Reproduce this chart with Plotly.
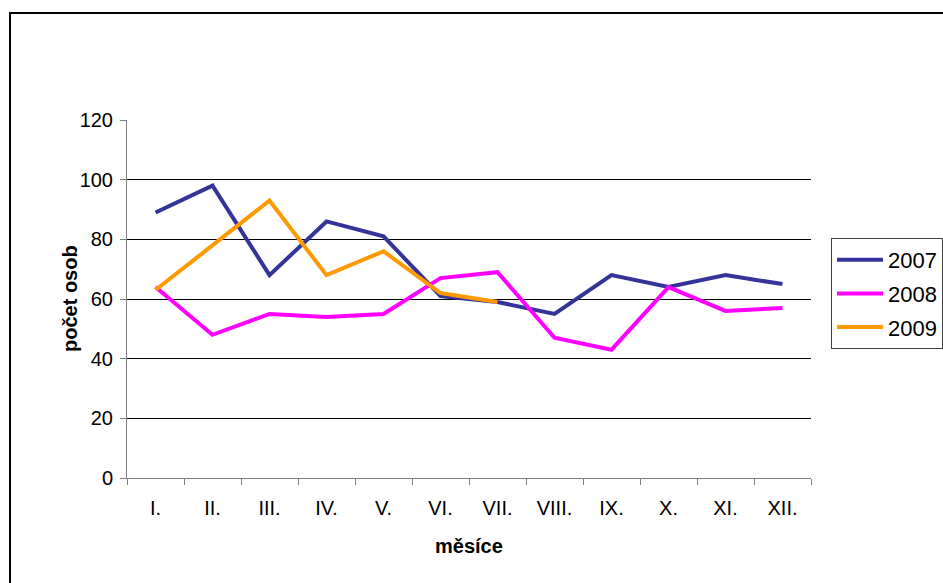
import plotly.graph_objects as go

months = ["I.", "II.", "III.", "IV.", "V.", "VI.", "VII.", "VIII.", "IX.", "X.", "XI.", "XII."]
y2007 = [89, 98, 68, 86, 81, 61, 59, 55, 68, 64, 68, 65]
y2008 = [64, 48, 55, 54, 55, 67, 69, 47, 43, 64, 56, 57]
y2009 = [63, 78, 93, 68, 76, 62, 59]
y_ticks = [0, 20, 40, 60, 80, 100, 120]

FONT = "Liberation Sans, Arial, sans-serif"

fig = go.Figure()
fig.add_trace(go.Scatter(x=months, y=y2007, name="2007", mode="lines",
                         line=dict(color="#333399", width=4), legendgroup="a"))
fig.add_trace(go.Scatter(x=months, y=y2008, name="2008", mode="lines",
                         line=dict(color="#FF00FF", width=4), legendgroup="b"))
fig.add_trace(go.Scatter(x=months[:len(y2009)], y=y2009, name="2009", mode="lines",
                         line=dict(color="#FF9900", width=4), legendgroup="c"))

W, H = 943, 583
# target plot area in page pixels: x 127..811, y 120..478
L, T = 127, 120
R = W - 811
B = H - 478
pw, ph = W - L - R, H - T - B

def px_x(sx):
    return (sx - L) / pw

def px_y(sy):
    return (H - B - sy) / ph

fig.update_layout(
    width=W, height=H,
    margin=dict(l=L, r=R, t=T, b=B, autoexpand=False),
    paper_bgcolor="white", plot_bgcolor="white",
    font=dict(family=FONT, size=20, color="black"),
    showlegend=True,
    legend=dict(x=px_x(831), y=px_y(238), xanchor="left", yanchor="top",
                bordercolor="#404040", borderwidth=1, bgcolor="white",
                font=dict(size=22), traceorder="grouped", tracegroupgap=2,
                itemwidth=46),
    xaxis=dict(type="category", range=[-0.5, 11.5], showgrid=False, zeroline=False,
               showline=True, linecolor="#808080", linewidth=1,
               ticks="outside", tickson="boundaries", ticklen=6, tickcolor="#808080",
               ticklabelstandoff=12, tickfont=dict(size=20)),
    yaxis=dict(range=[0, 120], tickvals=y_ticks, showgrid=True, gridcolor="black",
               gridwidth=1, zeroline=False, showline=True, linecolor="#808080",
               linewidth=1, ticks="outside", ticklen=6, tickcolor="#808080",
               ticklabelstandoff=3, tickfont=dict(size=20)),
    annotations=[
        dict(text="<b>měsíce</b>", xref="paper", yref="paper",
             x=px_x(469), y=px_y(546), xanchor="center", yanchor="middle",
             showarrow=False, font=dict(size=20)),
        dict(text="<b>počet osob</b>", xref="paper", yref="paper",
             x=px_x(57), y=px_y(299), xanchor="center", yanchor="middle",
             xshift=13, showarrow=False, textangle=-90, font=dict(size=20)),
    ],
    shapes=[dict(type="rect", xref="paper", yref="paper",
                 x0=px_x(10), x1=px_x(W + 40),
                 y0=px_y(H + 40), y1=px_y(13),
                 line=dict(color="black", width=2), fillcolor="rgba(0,0,0,0)",
                 layer="below")],
)

fig.write_html("out.html", config={"displayModeBar": False})

with open("out.html", "r", encoding="utf-8") as f:
    html = f.read()
html = html.replace("<body>", '<body style="margin:0;overflow:hidden">', 1)
with open("out.html", "w", encoding="utf-8") as f:
    f.write(html)
